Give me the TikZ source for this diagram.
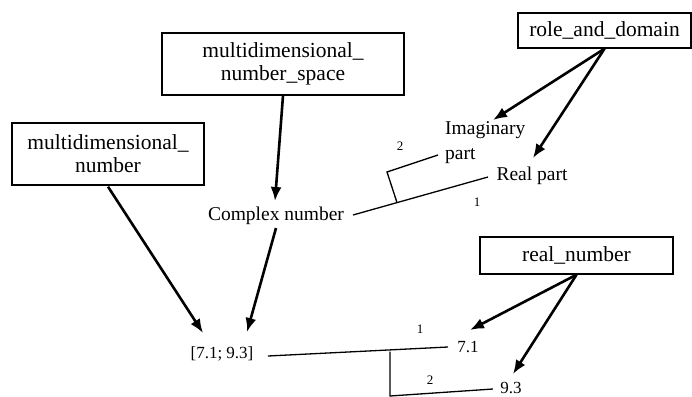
\documentclass[tikz,border=0pt]{standalone}
\usepackage{fontspec}
\setmainfont{Liberation Serif}
\usetikzlibrary{arrows.meta,calc}
\begin{document}
\begin{tikzpicture}[x=1pt,y=-1pt,
  box/.style={draw,line width=1.4pt,inner sep=0pt,font=\fontsize{21.5}{23}\selectfont,align=center},
  lbl/.style={inner sep=0pt,font=\fontsize{19.5}{23}\selectfont},
  num/.style={inner sep=0pt,font=\fontsize{17}{18}\selectfont},
  small/.style={inner sep=0pt,font=\fontsize{13}{14}\selectfont},
  arr/.style={line width=2.6pt,-{Latex[length=14pt,width=11pt]}},
  thin/.style={line width=1.3pt}]
\useasboundingbox (0,0) rectangle (692,396);
\clip (0,0) rectangle (692,396);
% boxes
\node[box,minimum width=192pt,minimum height=62pt] (mdn) at (108,154) {multidimensional\_\\number};
\node[box,minimum width=242pt,minimum height=62pt] (mns) at (283,64) {multidimensional\_\\number\_space};
\node[box,minimum width=173pt,minimum height=35pt] (rad) at (604.5,30.5) {role\_and\_domain};
\node[box,minimum width=193pt,minimum height=37pt] (rn) at (576.5,255.5) {real\_number};
% labels
\node[lbl] (cn) at (276,216) {Complex number};
\node[lbl,align=left,anchor=north west,font=\fontsize{19.5}{25}\selectfont] (ip) at (445,121) {Imaginary\\part};
\node[lbl] (rp) at (532,176) {Real part};
\node[num] (v) at (222,354) {[7.1; 9.3]};
\node[num] (a) at (468,347) {7.1};
\node[num] (b) at (511,388) {9.3};
\node[small] (n2a) at (400,146) {2};
\node[small] (n1a) at (477,202) {1};
\node[small] (n1b) at (420,329) {1};
\node[small] (n2b) at (430,380) {2};
% arrow tips
\coordinate (t1) at (203,333);
\coordinate (t2) at (275,201);
\coordinate (t3) at (247,332);
\coordinate (t4) at (493,120);
\coordinate (t5) at (533,158);
\coordinate (t6) at (470,330);
\coordinate (t7) at (513,374);
\draw[arr] ($(mdn.south)+(0,1)$) -- (t1);
\draw[arr] (mns.south) -- (t2);
\draw[arr] ($(cn.south)+(0,3)$) -- (t3);
\draw[arr] (rad.south) -- (t4);
\draw[arr] (rad.south) -- (t5);
\draw[arr] (rn.south) -- (t6);
\draw[arr] (rn.south) -- (t7);
% thin connectors
\coordinate (cs) at (353,215);
\coordinate (ce) at (488,177);
\coordinate (c1) at (397,202.6);
\coordinate (c2) at (387,172);
\coordinate (c3) at (438,155);
\draw[thin] (cs) -- (ce);
\draw[thin] (c1) -- (c2) -- (c3);
\coordinate (vs) at (268,356);
\coordinate (ae) at (448,347);
\coordinate (d1) at (390,351.5);
\coordinate (d2) at (390,396);
\coordinate (be) at (493,389);
\draw[thin] (vs) -- (ae);
\draw[thin] (d1) -- (d2) -- (be);
\end{tikzpicture}
\end{document}
